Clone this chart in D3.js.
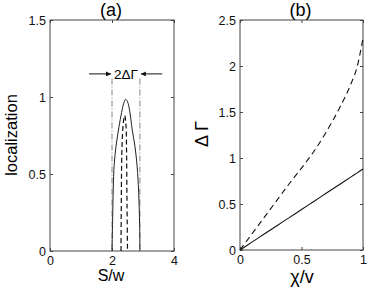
<!DOCTYPE html>
<html>
<head>
<meta charset="utf-8">
<script src="https://cdn.jsdelivr.net/npm/d3@7"></script>
<style>
  body { margin: 0; background: #fff; }
  svg { display: block; font-family: "Liberation Sans", Arial, sans-serif; }
</style>
</head>
<body>
<div id="chart"></div>
<script>
// panel (a): localization vs S/w
const locSolidS = [2.00, 2.02, 2.04, 2.07, 2.13, 2.22, 2.31, 2.38, 2.44, 2.50, 2.57, 2.65, 2.74, 2.81, 2.86, 2.89, 2.90];
const locSolidY = [0, 0.20, 0.40, 0.56, 0.68, 0.80, 0.90, 0.96, 0.985, 0.97, 0.91, 0.79, 0.68, 0.55, 0.38, 0.18, 0];
const locDashS = [2.29, 2.30, 2.31, 2.33, 2.37, 2.41, 2.45, 2.47, 2.48, 2.49, 2.50];
const locDashY = [0, 0.30, 0.55, 0.72, 0.84, 0.88, 0.82, 0.65, 0.40, 0.20, 0];
const gammaBounds = [2.0, 2.9];
const arrowLevel = 1.15;
const aXTicks = [0, 2, 4];
const aYTicks = [0, 0.5, 1, 1.5];

// panel (b): delta Gamma vs chi/v
const chi = [0, 0.1, 0.2, 0.3, 0.4, 0.5, 0.6, 0.7, 0.8, 0.9, 0.95, 1.0];
const gammaDash = [0, 0.18, 0.36, 0.54, 0.72, 0.89, 1.07, 1.28, 1.52, 1.80, 1.98, 2.30];
const gammaSolid = [0, 0.088, 0.176, 0.264, 0.352, 0.44, 0.528, 0.616, 0.704, 0.792, 0.836, 0.88];
const bXTicks = [0, 0.5, 1];
const bYTicks = [0, 0.5, 1, 1.5, 2, 2.5];

const svg = d3.select("#chart").append("svg")
    .attr("width", 382)
    .attr("height", 298);

function panel(opt) {
    const x = d3.scaleLinear().domain(opt.xDomain).range([opt.left, opt.right]);
    const y = d3.scaleLinear().domain(opt.yDomain).range([opt.bottom, opt.top]);
    const g = svg.append("g");

    // ticks pointing inside, on all four sides (matlab style)
    const tl = 3;
    const axCol = "#444";
    g.append("g").attr("transform", `translate(0,${opt.bottom})`)
        .call(d3.axisBottom(x).tickValues(opt.xTicks).tickSize(-tl).tickPadding(5).tickFormat(d3.format("")))
        .call(a => a.select(".domain").remove());
    g.append("g").attr("transform", `translate(0,${opt.top})`)
        .call(d3.axisTop(x).tickValues(opt.xTicks).tickSize(-tl).tickFormat(""))
        .call(a => a.select(".domain").remove());
    g.append("g").attr("transform", `translate(${opt.left},0)`)
        .call(d3.axisLeft(y).tickValues(opt.yTicks).tickSize(-tl).tickPadding(4).tickFormat(d3.format("")))
        .call(a => a.select(".domain").remove());
    g.append("g").attr("transform", `translate(${opt.right},0)`)
        .call(d3.axisRight(y).tickValues(opt.yTicks).tickSize(-tl).tickFormat(""))
        .call(a => a.select(".domain").remove());
    g.selectAll(".tick line").attr("stroke", axCol);
    g.selectAll(".tick text").attr("font-size", 12.5).attr("fill", "#111")
        .attr("font-family", "Liberation Sans, Arial, sans-serif");

    g.append("rect")
        .attr("x", opt.left).attr("y", opt.top)
        .attr("width", opt.right - opt.left).attr("height", opt.bottom - opt.top)
        .attr("fill", "none").attr("stroke", axCol).attr("stroke-width", 1);

    g.append("text")
        .attr("x", (opt.left + opt.right) / 2 - 1).attr("y", 16)
        .attr("text-anchor", "middle").attr("font-size", 18)
        .text(opt.title);

    return {x, y, g};
}

// ---- panel (a)
const pa = panel({
    left: 50, right: 174, top: 20, bottom: 251,
    xDomain: [0, 4], yDomain: [0, 1.5],
    xTicks: aXTicks, yTicks: aYTicks, title: "(a)"
});

const lineA = d3.line().x(d => pa.x(d[0])).y(d => pa.y(d[1])).curve(d3.curveCatmullRom);

// dash-dot bounds
gammaBounds.forEach(s => {
    pa.g.append("line")
        .attr("x1", pa.x(s)).attr("x2", pa.x(s))
        .attr("y1", pa.y(1.12)).attr("y2", pa.y(0))
        .attr("stroke", "#777").attr("stroke-width", 0.9)
        .attr("stroke-dasharray", "6,2,1,2");
});

pa.g.append("path")
    .datum(locSolidS.map((s, i) => [s, locSolidY[i]]))
    .attr("d", lineA)
    .attr("fill", "none").attr("stroke", "#222").attr("stroke-width", 1);

pa.g.append("path")
    .datum(locDashS.map((s, i) => [s, locDashY[i]]))
    .attr("d", lineA)
    .attr("fill", "none").attr("stroke", "#111").attr("stroke-width", 1.2)
    .attr("stroke-dasharray", "5,3");

// 2ΔΓ arrows
const defs = svg.append("defs");
defs.append("marker")
    .attr("id", "arr").attr("viewBox", "0 0 10 10")
    .attr("refX", 10).attr("refY", 5)
    .attr("markerWidth", 8).attr("markerHeight", 5)
    .attr("markerUnits", "userSpaceOnUse")
    .attr("orient", "auto")
    .append("path").attr("d", "M0,0 L10,5 L0,10 z").attr("fill", "#111");

pa.g.append("line")
    .attr("x1", pa.x(1.26)).attr("x2", pa.x(gammaBounds[0]) - 1)
    .attr("y1", pa.y(arrowLevel)).attr("y2", pa.y(arrowLevel))
    .attr("stroke", "#111").attr("stroke-width", 1).attr("marker-end", "url(#arr)");
pa.g.append("line")
    .attr("x1", pa.x(3.62)).attr("x2", pa.x(gammaBounds[1]) + 1)
    .attr("y1", pa.y(arrowLevel)).attr("y2", pa.y(arrowLevel))
    .attr("stroke", "#111").attr("stroke-width", 1).attr("marker-end", "url(#arr)");
pa.g.append("text")
    .attr("x", pa.x(d3.mean(gammaBounds))).attr("y", pa.y(arrowLevel) + 5)
    .attr("text-anchor", "middle").attr("font-size", 13.5)
    .text("2ΔΓ");

svg.append("text")
    .attr("transform", `translate(17,135) rotate(-90)`)
    .attr("text-anchor", "middle").attr("font-size", 16.5)
    .text("localization");
svg.append("text")
    .attr("x", 111).attr("y", 281)
    .attr("text-anchor", "middle").attr("font-size", 16)
    .text("S/w");

// ---- panel (b)
const pb = panel({
    left: 240, right: 363, top: 20, bottom: 250,
    xDomain: [0, 1], yDomain: [0, 2.5],
    xTicks: bXTicks, yTicks: bYTicks, title: "(b)"
});

const lineB = d3.line().x(d => pb.x(d[0])).y(d => pb.y(d[1])).curve(d3.curveMonotoneX);

pb.g.append("path")
    .datum(chi.map((c, i) => [c, gammaSolid[i]]))
    .attr("d", lineB)
    .attr("fill", "none").attr("stroke", "#111").attr("stroke-width", 1.1);

pb.g.append("path")
    .datum(chi.map((c, i) => [c, gammaDash[i]]))
    .attr("d", lineB)
    .attr("fill", "none").attr("stroke", "#111").attr("stroke-width", 1.1)
    .attr("stroke-dasharray", "6,4");

svg.append("text")
    .attr("transform", `translate(208,134) rotate(-90)`)
    .attr("text-anchor", "middle").attr("font-size", 18)
    .text("Δ Γ");
svg.append("text")
    .attr("x", 302).attr("y", 283)
    .attr("text-anchor", "middle").attr("font-size", 18)
    .text("χ/v");
</script>
</body>
</html>
